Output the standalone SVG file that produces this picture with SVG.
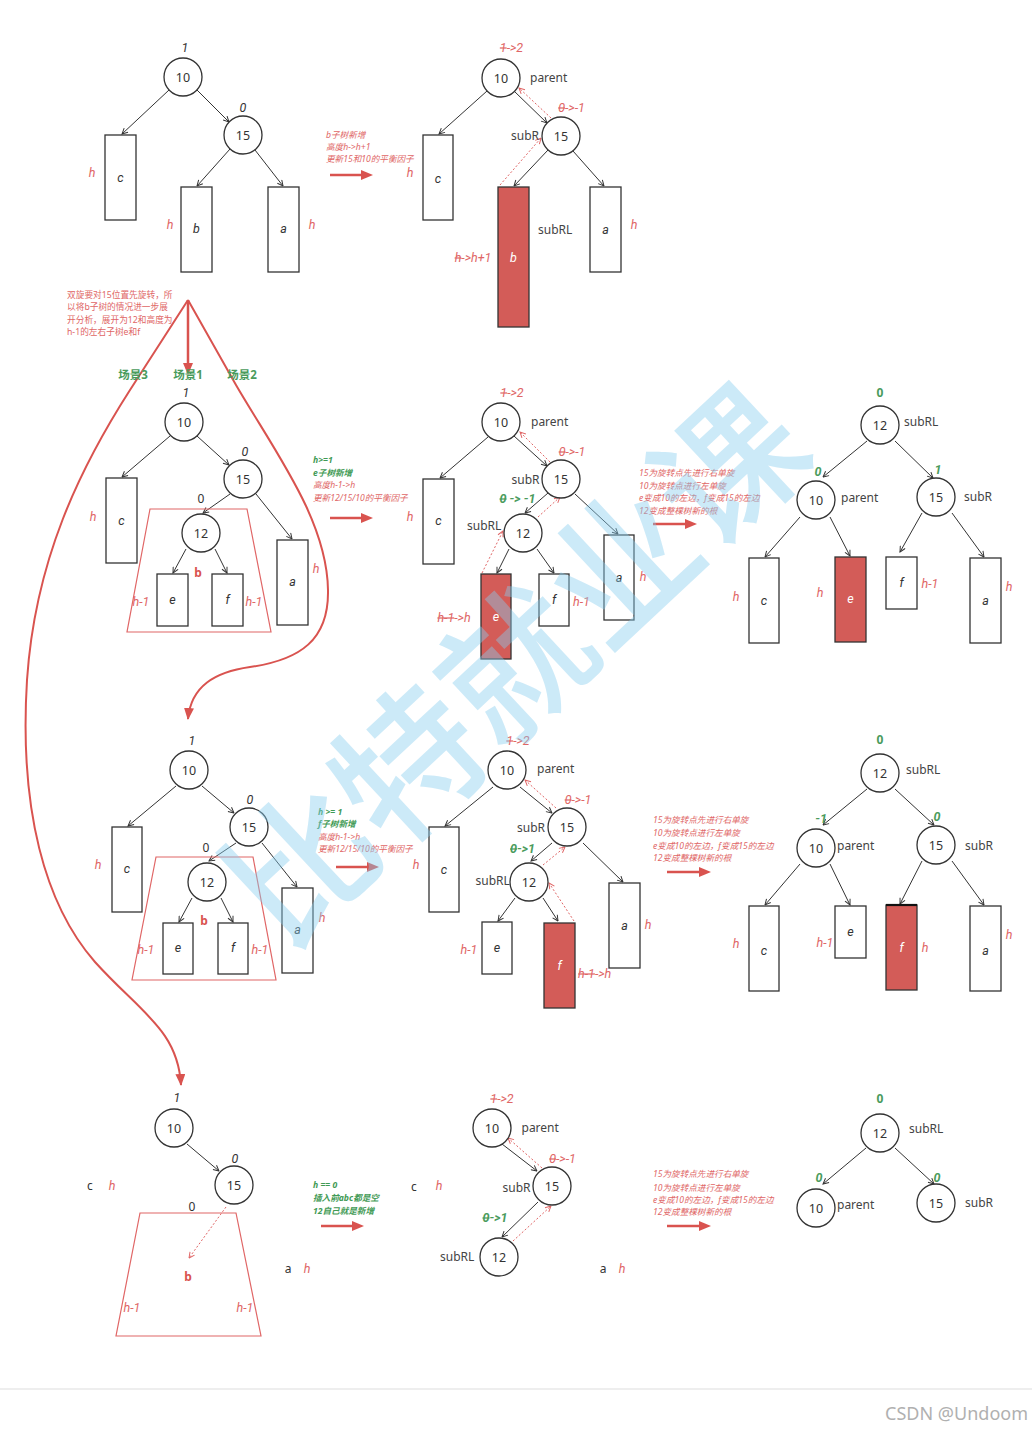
<svg xmlns="http://www.w3.org/2000/svg" width="1032" height="1432" viewBox="0 0 1032 1432">
<style>
text{font-family:"Noto Sans","Noto Sans CJK SC",sans-serif}
.nc{fill:#fff;stroke:#333;stroke-width:1.3}
.num{font-size:12.5px;fill:#333;text-anchor:middle}
.bx{fill:#fff;stroke:#333;stroke-width:1.3}
.rb{fill:#d35c58;stroke:#333;stroke-width:1.3}
.bl,.wl,.rh,.dk,.gn{font-family:Roboto,"Noto Sans CJK SC",sans-serif}
.bl{font-size:12.5px;font-style:italic;fill:#333;text-anchor:middle}
.wl{font-size:12.5px;font-style:italic;fill:#fff;text-anchor:middle}
.rh{font-size:12.5px;font-style:italic;fill:#e06666;text-anchor:middle}
.dk{font-size:12.5px;font-style:italic;fill:#333;text-anchor:middle}
.up{font-size:12px;fill:#333;text-anchor:middle}
.lab{font-size:12px;fill:#444}
.gn{font-size:12.5px;font-style:italic;font-weight:bold;fill:#4a9b5c;text-anchor:middle}
.gu{font-size:12px;font-weight:bold;fill:#4a9b5c;text-anchor:middle}
.ann{font-size:8.6px;font-style:italic;fill:#e06666}
.anng{font-size:8.6px;font-style:italic;font-weight:bold;fill:#3f9a55}
.note{font-size:8.7px;fill:#e06666}
.scene{font-size:11.5px;font-weight:bold;fill:#4a9b5c;text-anchor:middle}
.e{stroke:#333;stroke-width:1;fill:none;marker-end:url(#ah)}
.d{stroke:#e06666;stroke-width:1;stroke-dasharray:2 2;fill:none;marker-end:url(#ar)}
.big{stroke:#d9534f;stroke-width:2.5;fill:none;marker-end:url(#bh)}
.cv{stroke:#d9534f;stroke-width:2;fill:none;marker-end:url(#ch)}
.tp{fill:none;stroke:#e06666;stroke-width:1.2}
.bb{font-size:12px;font-weight:bold;fill:#d9534f;text-anchor:middle}
.st{text-decoration:line-through}
</style>
<defs>
<marker id="ah" viewBox="0 0 10 10" refX="9" refY="5" markerWidth="7" markerHeight="7" orient="auto" markerUnits="userSpaceOnUse"><path d="M1,1 L9,5 L1,9" fill="none" stroke="#333" stroke-width="1.4"/></marker>
<marker id="ar" viewBox="0 0 10 10" refX="9" refY="5" markerWidth="7" markerHeight="7" orient="auto" markerUnits="userSpaceOnUse"><path d="M1,1 L9,5 L1,9" fill="none" stroke="#e06666" stroke-width="1.4"/></marker>
<marker id="bh" viewBox="0 0 12 10" refX="1" refY="5" markerWidth="12" markerHeight="10" orient="auto" markerUnits="userSpaceOnUse"><path d="M0,0 L12,5 L0,10 Z" fill="#d9534f"/></marker>
<marker id="ch" viewBox="0 0 12 10" refX="11" refY="5" markerWidth="12" markerHeight="10" orient="auto" markerUnits="userSpaceOnUse"><path d="M0,0 L12,5 L0,10 Z" fill="#d9534f"/></marker>
</defs>
<rect x="0" y="0" width="1032" height="1432" fill="#fff"/>

<!-- connectors -->
<g id="connectors">
<path class="e" d="M169,90 L122,134"/><path class="e" d="M197,90 L229,122"/><path class="e" d="M230,149 L197,186"/><path class="e" d="M255,150 L283,186"/>
<path class="e" d="M487,91 L439,134"/><path class="e" d="M514,91 L547,123"/><path class="e" d="M548,150 L514,186"/><path class="e" d="M573,151 L604,186"/>
<path class="d" d="M500,185 L541,138"/><path class="d" d="M551,118 L519,88"/>
<path class="e" d="M170,436 L122,477"/><path class="e" d="M197,436 L229,465"/><path class="e" d="M230,494 L203,513"/><path class="e" d="M256,494 L292,539"/><path class="e" d="M186,549 L173,573"/><path class="e" d="M215,549 L227,573"/>
<path class="e" d="M488,437 L440,478"/><path class="e" d="M514,436 L547,466"/><path class="e" d="M548,493 L525,513"/><path class="e" d="M575,494 L618,534"/><path class="e" d="M509,549 L497,573"/><path class="e" d="M537,549 L554,573"/>
<path class="d" d="M482,573 L503,531"/><path class="d" d="M538,517 L560,497"/><path class="d" d="M550,462 L520,432"/>
<path class="e" d="M867,441 L823,477"/><path class="e" d="M895,441 L933,478"/><path class="e" d="M800,517 L765,557"/><path class="e" d="M830,517 L850,556"/><path class="e" d="M922,513 L900,552"/><path class="e" d="M952,513 L984,557"/>
<path class="e" d="M176,786 L128,826"/><path class="e" d="M202,786 L234,813"/><path class="e" d="M236,843 L209,861"/><path class="e" d="M262,843 L297,887"/><path class="e" d="M192,898 L179,922"/><path class="e" d="M221,898 L233,922"/>
<path class="e" d="M493,787 L445,826"/><path class="e" d="M520,787 L552,813"/><path class="e" d="M552,843 L531,861"/><path class="e" d="M583,843 L623,882"/><path class="e" d="M515,898 L498,921"/><path class="e" d="M543,898 L558,921"/>
<path class="d" d="M574,921 L549,883"/><path class="d" d="M543,865 L565,847"/><path class="d" d="M556,808 L525,780"/>
<path class="e" d="M867,789 L823,825"/><path class="e" d="M895,789 L934,825"/><path class="e" d="M800,864 L765,905"/><path class="e" d="M830,864 L850,905"/><path class="e" d="M922,861 L900,904"/><path class="e" d="M952,861 L984,905"/>
<path class="e" d="M187,1144 L219,1171"/><path class="d" d="M226,1207 L189,1258"/>
<path class="e" d="M502,1144 L537,1171"/><path class="e" d="M538,1202 L502,1237"/><path class="d" d="M513,1241 L551,1206"/><path class="d" d="M542,1168 L508,1138"/>
<path class="e" d="M866,1148 L823,1184"/><path class="e" d="M895,1148 L934,1184"/>
<path class="big" d="M330,175 L362,175"/>
<path class="big" d="M330,518 L362,518"/>
<path class="big" d="M653,524 L686,524"/>
<path class="big" d="M336,867 L368,867"/>
<path class="big" d="M667,872 L700,872"/>
<path class="big" d="M321,1226 L353,1226"/>
<path class="big" d="M667,1226 L700,1226"/>
<path class="big" d="M188,300 L188,364"/>
<path class="cv" d="M188,300 L236,385 C275,452 327,520 328,590 C329,640 300,660 250,667 C215,672 191,686 188,719"/>
<path class="cv" d="M188,300 L130,390 C80,468 35,560 27,680 C19,810 45,905 95,962 C140,1012 178,1030 181,1085"/>
</g>

<!-- annotations -->
<g id="annotations">
<text class="ann" x="326" y="138">b子树新增</text>
<text class="ann" x="326" y="150">高度h-&gt;h+1</text>
<text class="ann" x="326" y="162">更新15和10的平衡因子</text>
<text class="note" x="67" y="298">双旋要对15位置先旋转，所</text>
<text class="note" x="67" y="309.5">以将b子树的情况进一步展</text>
<text class="note" x="67" y="322.5">开分析，展开为12和高度为</text>
<text class="note" x="67" y="335">h-1的左右子树e和f</text>
<text class="scene" x="133" y="379">场景3</text>
<text class="scene" x="188" y="379">场景1</text>
<text class="scene" x="242" y="379">场景2</text>
<text class="anng" x="313" y="463">h&gt;=1</text>
<text class="anng" x="313" y="475.7">e子树新增</text>
<text class="ann" x="313" y="488.3">高度h-1-&gt;h</text>
<text class="ann" x="313" y="500.7">更新12/15/10的平衡因子</text>
<text class="ann" x="639" y="476.3">15为旋转点先进行右单旋</text>
<text class="ann" x="639" y="489">10为旋转点进行左单旋</text>
<text class="ann" x="639" y="501.3">e变成10的左边，f变成15的左边</text>
<text class="ann" x="639" y="513.7">12变成整棵树新的根</text>
<text class="anng" x="318" y="814.7">h &gt;= 1</text>
<text class="anng" x="318" y="827.3">f子树新增</text>
<text class="ann" x="318" y="839.7">高度h-1-&gt;h</text>
<text class="ann" x="318" y="852">更新12/15/10的平衡因子</text>
<text class="ann" x="653" y="823">15为旋转点先进行右单旋</text>
<text class="ann" x="653" y="835.7">10为旋转点进行左单旋</text>
<text class="ann" x="653" y="849">e变成10的左边，f变成15的左边</text>
<text class="ann" x="653" y="861.3">12变成整棵树新的根</text>
<text class="anng" x="313" y="1188">h == 0</text>
<text class="anng" x="313" y="1201.3">插入前abc都是空</text>
<text class="anng" x="313" y="1214">12自己就是新增</text>
<text class="ann" x="653" y="1177.3">15为旋转点先进行右单旋</text>
<text class="ann" x="653" y="1190.7">10为旋转点进行左单旋</text>
<text class="ann" x="653" y="1203">e变成10的左边，f变成15的左边</text>
<text class="ann" x="653" y="1215.3">12变成整棵树新的根</text>
</g>

<!-- Row 1 left -->
<g id="r1l-n10"><circle class="nc" cx="183" cy="77" r="19"/><text class="num" x="183" y="81.5">10</text><text class="dk" x="185" y="52">1</text></g>
<g id="r1l-n15"><circle class="nc" cx="243" cy="135" r="19"/><text class="num" x="243" y="139.5">15</text><text class="dk" x="243" y="112">0</text></g>
<g id="r1l-c"><rect class="bx" x="105" y="135" width="31" height="85"/><text class="bl" x="120.5" y="182">c</text><text class="rh" x="92" y="177">h</text></g>
<g id="r1l-b"><rect class="bx" x="181" y="187" width="31" height="85"/><text class="bl" x="196.5" y="233">b</text><text class="rh" x="170" y="229">h</text></g>
<g id="r1l-a"><rect class="bx" x="268" y="187" width="31" height="85"/><text class="bl" x="283.5" y="233">a</text><text class="rh" x="312" y="229">h</text></g>

<!-- Row 1 middle -->
<g id="r1m-n10"><circle class="nc" cx="501" cy="78" r="19"/><text class="num" x="501" y="82.5">10</text><text class="rh" x="511.5" y="52"><tspan class="st">1</tspan>-&gt;2</text><text class="lab" x="530" y="82">parent</text></g>
<g id="r1m-n15"><circle class="nc" cx="561" cy="136" r="19"/><text class="num" x="561" y="140.5">15</text><text class="rh" x="571.5" y="112"><tspan class="st">0</tspan>-&gt;-1</text><text class="lab" x="511" y="140">subR</text></g>
<g id="r1m-c"><rect class="bx" x="423" y="135" width="30" height="85"/><text class="bl" x="438" y="183">c</text><text class="rh" x="410" y="177">h</text></g>
<g id="r1m-b"><rect class="rb" x="498" y="187" width="31" height="140"/><text class="wl" x="513.5" y="262">b</text><text class="rh" x="473" y="262"><tspan class="st">h</tspan>-&gt;h+1</text><text class="lab" x="538" y="234">subRL</text></g>
<g id="r1m-a"><rect class="bx" x="590" y="187" width="31" height="85"/><text class="bl" x="605.5" y="234">a</text><text class="rh" x="634" y="229">h</text></g>

<!-- Row 2 left -->
<g id="r2l-n10"><circle class="nc" cx="184" cy="422" r="19"/><text class="num" x="184" y="426.5">10</text><text class="dk" x="186" y="397">1</text></g>
<g id="r2l-n15"><circle class="nc" cx="243" cy="479" r="19"/><text class="num" x="243" y="483.5">15</text><text class="dk" x="245" y="456">0</text></g>
<g id="r2l-b"><path class="tp" d="M150,509 L247,509 L271,632 L127,632 Z"/><text class="bb" x="198" y="577">b</text><text class="rh" x="141" y="606">h-1</text><text class="rh" x="254" y="606">h-1</text></g>
<g id="r2l-n12"><circle class="nc" cx="201" cy="533" r="19"/><text class="num" x="201" y="537.5">12</text><text class="up" x="201" y="503">0</text></g>
<g id="r2l-c"><rect class="bx" x="106" y="478" width="31" height="85"/><text class="bl" x="121.5" y="525">c</text><text class="rh" x="93" y="521">h</text></g>
<g id="r2l-e"><rect class="bx" x="157" y="574" width="31" height="52"/><text class="bl" x="172.5" y="604">e</text></g>
<g id="r2l-f"><rect class="bx" x="212" y="574" width="31" height="52"/><text class="bl" x="227.5" y="604">f</text></g>
<g id="r2l-a"><rect class="bx" x="277" y="540" width="31" height="85"/><text class="bl" x="292.5" y="586">a</text><text class="rh" x="316" y="573">h</text></g>

<!-- Row 2 middle -->
<g id="r2m-n10"><circle class="nc" cx="501" cy="422" r="19"/><text class="num" x="501" y="426.5">10</text><text class="rh" x="512" y="397"><tspan class="st">1</tspan>-&gt;2</text><text class="lab" x="531" y="426">parent</text></g>
<g id="r2m-n15"><circle class="nc" cx="561" cy="479" r="19"/><text class="num" x="561" y="483.5">15</text><text class="rh" x="572" y="456"><tspan class="st">0</tspan>-&gt;-1</text><text class="lab" x="511.5" y="484">subR</text></g>
<g id="r2m-n12"><circle class="nc" cx="523" cy="533" r="19"/><text class="num" x="523" y="537.5">12</text><text class="gn" x="517.5" y="503"><tspan class="st">0</tspan> -&gt; -1</text><text class="lab" x="467" y="530">subRL</text></g>
<g id="r2m-c"><rect class="bx" x="423" y="479" width="31" height="85"/><text class="bl" x="438.5" y="525">c</text><text class="rh" x="410" y="521">h</text></g>
<g id="r2m-e"><rect class="rb" x="481" y="574" width="30" height="85"/><text class="wl" x="496" y="621">e</text><text class="rh" x="454" y="622"><tspan class="st">h-1</tspan>-&gt;h</text></g>
<g id="r2m-f"><rect class="bx" x="539" y="574" width="30" height="52"/><text class="bl" x="554" y="604">f</text><text class="rh" x="581.5" y="606">h-1</text></g>
<g id="r2m-a"><rect class="bx" x="604" y="535" width="30" height="85"/><text class="bl" x="619" y="582">a</text><text class="rh" x="643" y="581">h</text></g>

<!-- Row 2 right -->
<g id="r2r-n12"><circle class="nc" cx="880" cy="425" r="19"/><text class="num" x="880" y="429.5">12</text><text class="gu" x="880" y="397">0</text><text class="lab" x="904" y="426">subRL</text></g>
<g id="r2r-n10"><circle class="nc" cx="816" cy="500" r="19"/><text class="num" x="816" y="504.5">10</text><text class="gn" x="818" y="476">0</text><text class="lab" x="841" y="502">parent</text></g>
<g id="r2r-n15"><circle class="nc" cx="936" cy="497" r="19"/><text class="num" x="936" y="501.5">15</text><text class="gn" x="938" y="474">1</text><text class="lab" x="964" y="501">subR</text></g>
<g id="r2r-c"><rect class="bx" x="749" y="558" width="30" height="85"/><text class="bl" x="764" y="605">c</text><text class="rh" x="736" y="601">h</text></g>
<g id="r2r-e"><rect class="rb" x="835" y="557" width="31" height="85"/><text class="wl" x="850.5" y="603">e</text><text class="rh" x="820" y="597">h</text></g>
<g id="r2r-f"><rect class="bx" x="886" y="557" width="31" height="52"/><text class="bl" x="901.5" y="587">f</text><text class="rh" x="930" y="588">h-1</text></g>
<g id="r2r-a"><rect class="bx" x="970" y="558" width="31" height="85"/><text class="bl" x="985.5" y="605">a</text><text class="rh" x="1009" y="591">h</text></g>

<!-- Row 3 left -->
<g id="r3l-n10"><circle class="nc" cx="189" cy="770" r="19"/><text class="num" x="189" y="774.5">10</text><text class="dk" x="192" y="745">1</text></g>
<g id="r3l-n15"><circle class="nc" cx="249" cy="827" r="19"/><text class="num" x="249" y="831.5">15</text><text class="dk" x="250" y="804">0</text></g>
<g id="r3l-b"><path class="tp" d="M156,857 L253,857 L276,980 L132,980 Z"/><text class="bb" x="204" y="925">b</text><text class="rh" x="146" y="954">h-1</text><text class="rh" x="260" y="954">h-1</text></g>
<g id="r3l-n12"><circle class="nc" cx="207" cy="882" r="19"/><text class="num" x="207" y="886.5">12</text><text class="up" x="206" y="852">0</text></g>
<g id="r3l-c"><rect class="bx" x="112" y="827" width="30" height="85"/><text class="bl" x="127" y="873">c</text><text class="rh" x="98" y="869">h</text></g>
<g id="r3l-e"><rect class="bx" x="163" y="923" width="30" height="51"/><text class="bl" x="178" y="952">e</text></g>
<g id="r3l-f"><rect class="bx" x="218" y="923" width="30" height="51"/><text class="bl" x="233" y="952">f</text></g>
<g id="r3l-a"><rect class="bx" x="282" y="888" width="31" height="85"/><text class="bl" x="297.5" y="934">a</text><text class="rh" x="322" y="922">h</text></g>

<!-- Row 3 middle -->
<g id="r3m-n10"><circle class="nc" cx="507" cy="770" r="19"/><text class="num" x="507" y="774.5">10</text><text class="rh" x="518" y="745"><tspan class="st">1</tspan>-&gt;2</text><text class="lab" x="537" y="773">parent</text></g>
<g id="r3m-n15"><circle class="nc" cx="567" cy="827" r="19"/><text class="num" x="567" y="831.5">15</text><text class="rh" x="578" y="804"><tspan class="st">0</tspan>-&gt;-1</text><text class="lab" x="517" y="832">subR</text></g>
<g id="r3m-n12"><circle class="nc" cx="529" cy="882" r="19"/><text class="num" x="529" y="886.5">12</text><text class="gn" x="522.5" y="853"><tspan class="st">0</tspan>-&gt;1</text><text class="lab" x="475.5" y="885">subRL</text></g>
<g id="r3m-c"><rect class="bx" x="429" y="827" width="30" height="85"/><text class="bl" x="444" y="874">c</text><text class="rh" x="416" y="869">h</text></g>
<g id="r3m-e"><rect class="bx" x="482" y="922" width="30" height="52"/><text class="bl" x="497" y="952">e</text><text class="rh" x="469" y="954">h-1</text></g>
<g id="r3m-f"><rect class="rb" x="544" y="923" width="31" height="85"/><text class="wl" x="559.5" y="970">f</text><text class="rh" x="594.7" y="978"><tspan class="st">h-1</tspan>-&gt;h</text></g>
<g id="r3m-a"><rect class="bx" x="609" y="883" width="31" height="85"/><text class="bl" x="624.5" y="930">a</text><text class="rh" x="648" y="929">h</text></g>

<!-- Row 3 right -->
<g id="r3r-n12"><circle class="nc" cx="880" cy="773" r="19"/><text class="num" x="880" y="777.5">12</text><text class="gu" x="880" y="744">0</text><text class="lab" x="906" y="774">subRL</text></g>
<g id="r3r-n10"><circle class="nc" cx="816" cy="848" r="19"/><text class="num" x="816" y="852.5">10</text><text class="gn" x="821" y="823">-1</text><text class="lab" x="837" y="850">parent</text></g>
<g id="r3r-n15"><circle class="nc" cx="936" cy="845" r="19"/><text class="num" x="936" y="849.5">15</text><text class="gn" x="937" y="821">0</text><text class="lab" x="965" y="850">subR</text></g>
<g id="r3r-c"><rect class="bx" x="749" y="906" width="30" height="85"/><text class="bl" x="764" y="955">c</text><text class="rh" x="736" y="948">h</text></g>
<g id="r3r-e"><rect class="bx" x="835" y="906" width="31" height="52"/><text class="bl" x="850.5" y="936">e</text><text class="rh" x="825" y="947">h-1</text></g>
<g id="r3r-f"><rect class="rb" x="886" y="905" width="31" height="85"/><line x1="886" y1="905" x2="917" y2="905" stroke="#111" stroke-width="2.2"/><text class="wl" x="901.5" y="952">f</text><text class="rh" x="925" y="952">h</text></g>
<g id="r3r-a"><rect class="bx" x="970" y="906" width="31" height="85"/><text class="bl" x="985.5" y="955">a</text><text class="rh" x="1009" y="939">h</text></g>

<!-- Row 4 left -->
<g id="r4l-n10"><circle class="nc" cx="174" cy="1128" r="19"/><text class="num" x="174" y="1132.5">10</text><text class="dk" x="177" y="1102">1</text></g>
<g id="r4l-n15"><circle class="nc" cx="234" cy="1185" r="19"/><text class="num" x="234" y="1189.5">15</text><text class="dk" x="235" y="1163">0</text></g>
<g id="r4l-c"><text class="up" x="90" y="1190">c</text><text class="rh" x="112" y="1190">h</text></g>
<g id="r4l-b"><path class="tp" d="M140,1213 L236,1213 L261,1336 L116,1336 Z"/><text class="up" x="192" y="1211">0</text><text class="bb" x="188" y="1281">b</text><text class="rh" x="132" y="1312">h-1</text><text class="rh" x="245" y="1312">h-1</text></g>
<g id="r4l-a"><text class="up" x="288" y="1273">a</text><text class="rh" x="307" y="1273">h</text></g>

<!-- Row 4 middle -->
<g id="r4m-c"><text class="up" x="414" y="1191">c</text><text class="rh" x="439" y="1190">h</text></g>
<g id="r4m-n10"><circle class="nc" cx="492" cy="1128" r="19"/><text class="num" x="492" y="1132.5">10</text><text class="rh" x="502" y="1103"><tspan class="st">1</tspan>-&gt;2</text><text class="lab" x="521.5" y="1132">parent</text></g>
<g id="r4m-n15"><circle class="nc" cx="552" cy="1186" r="19"/><text class="num" x="552" y="1190.5">15</text><text class="rh" x="562.5" y="1163"><tspan class="st">0</tspan>-&gt;-1</text><text class="lab" x="502.5" y="1191.5">subR</text></g>
<g id="r4m-n12"><circle class="nc" cx="499" cy="1257" r="19"/><text class="num" x="499" y="1261.5">12</text><text class="gn" x="495" y="1222"><tspan class="st">0</tspan>-&gt;1</text><text class="lab" x="440" y="1261">subRL</text></g>
<g id="r4m-a"><text class="up" x="603" y="1273">a</text><text class="rh" x="622" y="1273">h</text></g>

<!-- Row 4 right -->
<g id="r4r-n12"><circle class="nc" cx="880" cy="1133" r="19"/><text class="num" x="880" y="1137.5">12</text><text class="gu" x="880" y="1103">0</text><text class="lab" x="909" y="1133">subRL</text></g>
<g id="r4r-n10"><circle class="nc" cx="816" cy="1208" r="19"/><text class="num" x="816" y="1212.5">10</text><text class="gn" x="819" y="1182">0</text><text class="lab" x="837" y="1209">parent</text></g>
<g id="r4r-n15"><circle class="nc" cx="936" cy="1203" r="19"/><text class="num" x="936" y="1207.5">15</text><text class="gn" x="937" y="1182">0</text><text class="lab" x="965" y="1207">subR</text></g>

<!-- watermark -->
<g id="watermark" opacity="0.42">
<text x="0" y="50" transform="translate(518,668) rotate(-43)" text-anchor="middle" style="font-family:'Noto Sans CJK SC',sans-serif;font-size:146px;font-weight:500;fill:#87cef0">比特就业课</text>
</g>

<line x1="0" y1="1389" x2="1032" y2="1389" stroke="#dddddd" stroke-width="1"/>
<text x="1028" y="1420" text-anchor="end" style="font-size:18px;fill:#b0b0b0">CSDN @Undoom</text>
</svg>
